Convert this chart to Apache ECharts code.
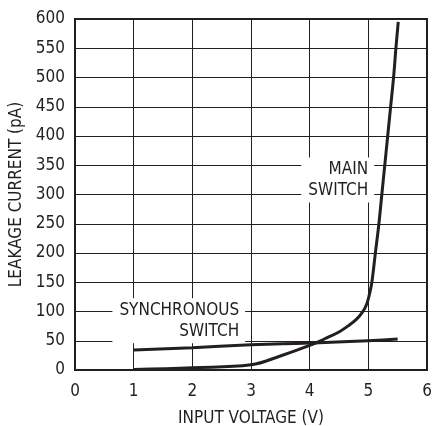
<!DOCTYPE html>
<html>
<head>
<meta charset="utf-8">
<script src="https://cdn.jsdelivr.net/npm/echarts@6/dist/echarts.min.js"></script>
<style>
html,body{margin:0;padding:0;background:#fff;}
#c{width:433px;height:426px;}
</style>
</head>
<body>
<div id="c"></div>
<script>
var xTicks = [0,1,2,3,4,5,6];
var yTicks = [0,50,100,150,200,250,300,350,400,450,500,550,600];
var mainSwitch = [[1,1],[2,4],[3,9],[3.5,24],[4,42],[4.25,53],[4.5,65],[4.65,75],[4.8,87],[4.9,99],[4.97,112],[5.02,130],[5.06,150],[5.12,200],[5.18,250],[5.23,300],[5.28,350],[5.33,400],[5.38,450],[5.43,500],[5.47,550],[5.51,595]];
var syncSwitch = [[1,34],[2,38],[3,43],[4,46],[5,50],[5.5,53]];
var mainLabel = {coord:[5.1,325], text:'MAIN\nSWITCH'};
var syncLabel = {coord:[2.9,84], text:'SYNCHRONOUS\nSWITCH'};

var FONT = '"DejaVu Sans Condensed","Liberation Sans Narrow",sans-serif';
var INK = '#231f20';
var chart = echarts.init(document.getElementById('c'), null, {renderer:'canvas'});

function annot(l){
  return {
    symbol:'rect', symbolSize:0, coord:l.coord,
    label:{show:true, position:'left', distance:0, formatter:l.text, align:'right',
      color:INK, fontFamily:FONT, fontSize:17, lineHeight:21,
      backgroundColor:'#fff', padding:[2,6,1,7]}
  };
}

chart.setOption({
  animation:false,
  grid:{left:75, right:6, top:19, bottom:56, outerBoundsMode:'none', containLabel:false},
  xAxis:{type:'value', min:0, max:6, interval:1,
    name:'INPUT VOLTAGE (V)', nameLocation:'middle', nameGap:40,
    nameTextStyle:{color:INK, fontFamily:FONT, fontSize:17},
    axisLine:{show:true, lineStyle:{color:INK, width:2}},
    axisTick:{show:false},
    axisLabel:{color:INK, fontFamily:FONT, fontSize:17, margin:13},
    splitLine:{show:true, lineStyle:{color:INK, width:1}}
  },
  yAxis:{type:'value', min:0, max:600, interval:50,
    name:'LEAKAGE CURRENT (pA)', nameLocation:'middle', nameGap:48,
    nameTextStyle:{color:INK, fontFamily:FONT, fontSize:17},
    axisLine:{show:true, lineStyle:{color:INK, width:2}},
    axisTick:{show:false},
    axisLabel:{color:INK, fontFamily:FONT, fontSize:17, margin:10},
    splitLine:{show:true, lineStyle:{color:INK, width:1}}
  },
  graphic:[{type:'rect', shape:{x:75,y:19,width:352,height:351}, style:{fill:'none', stroke:INK, lineWidth:2}, z:100}],
  series:[
    {type:'line', name:'Main switch', data:mainSwitch, smooth:0.4, symbol:'none',
      lineStyle:{color:INK, width:3}, z:5,
      markPoint:{data:[annot(mainLabel)], z:3}},
    {type:'line', name:'Synchronous switch', data:syncSwitch, smooth:true, symbol:'none',
      lineStyle:{color:INK, width:3}, z:5,
      markPoint:{data:[annot(syncLabel)], z:3}}
  ]
});
</script>
</body>
</html>
